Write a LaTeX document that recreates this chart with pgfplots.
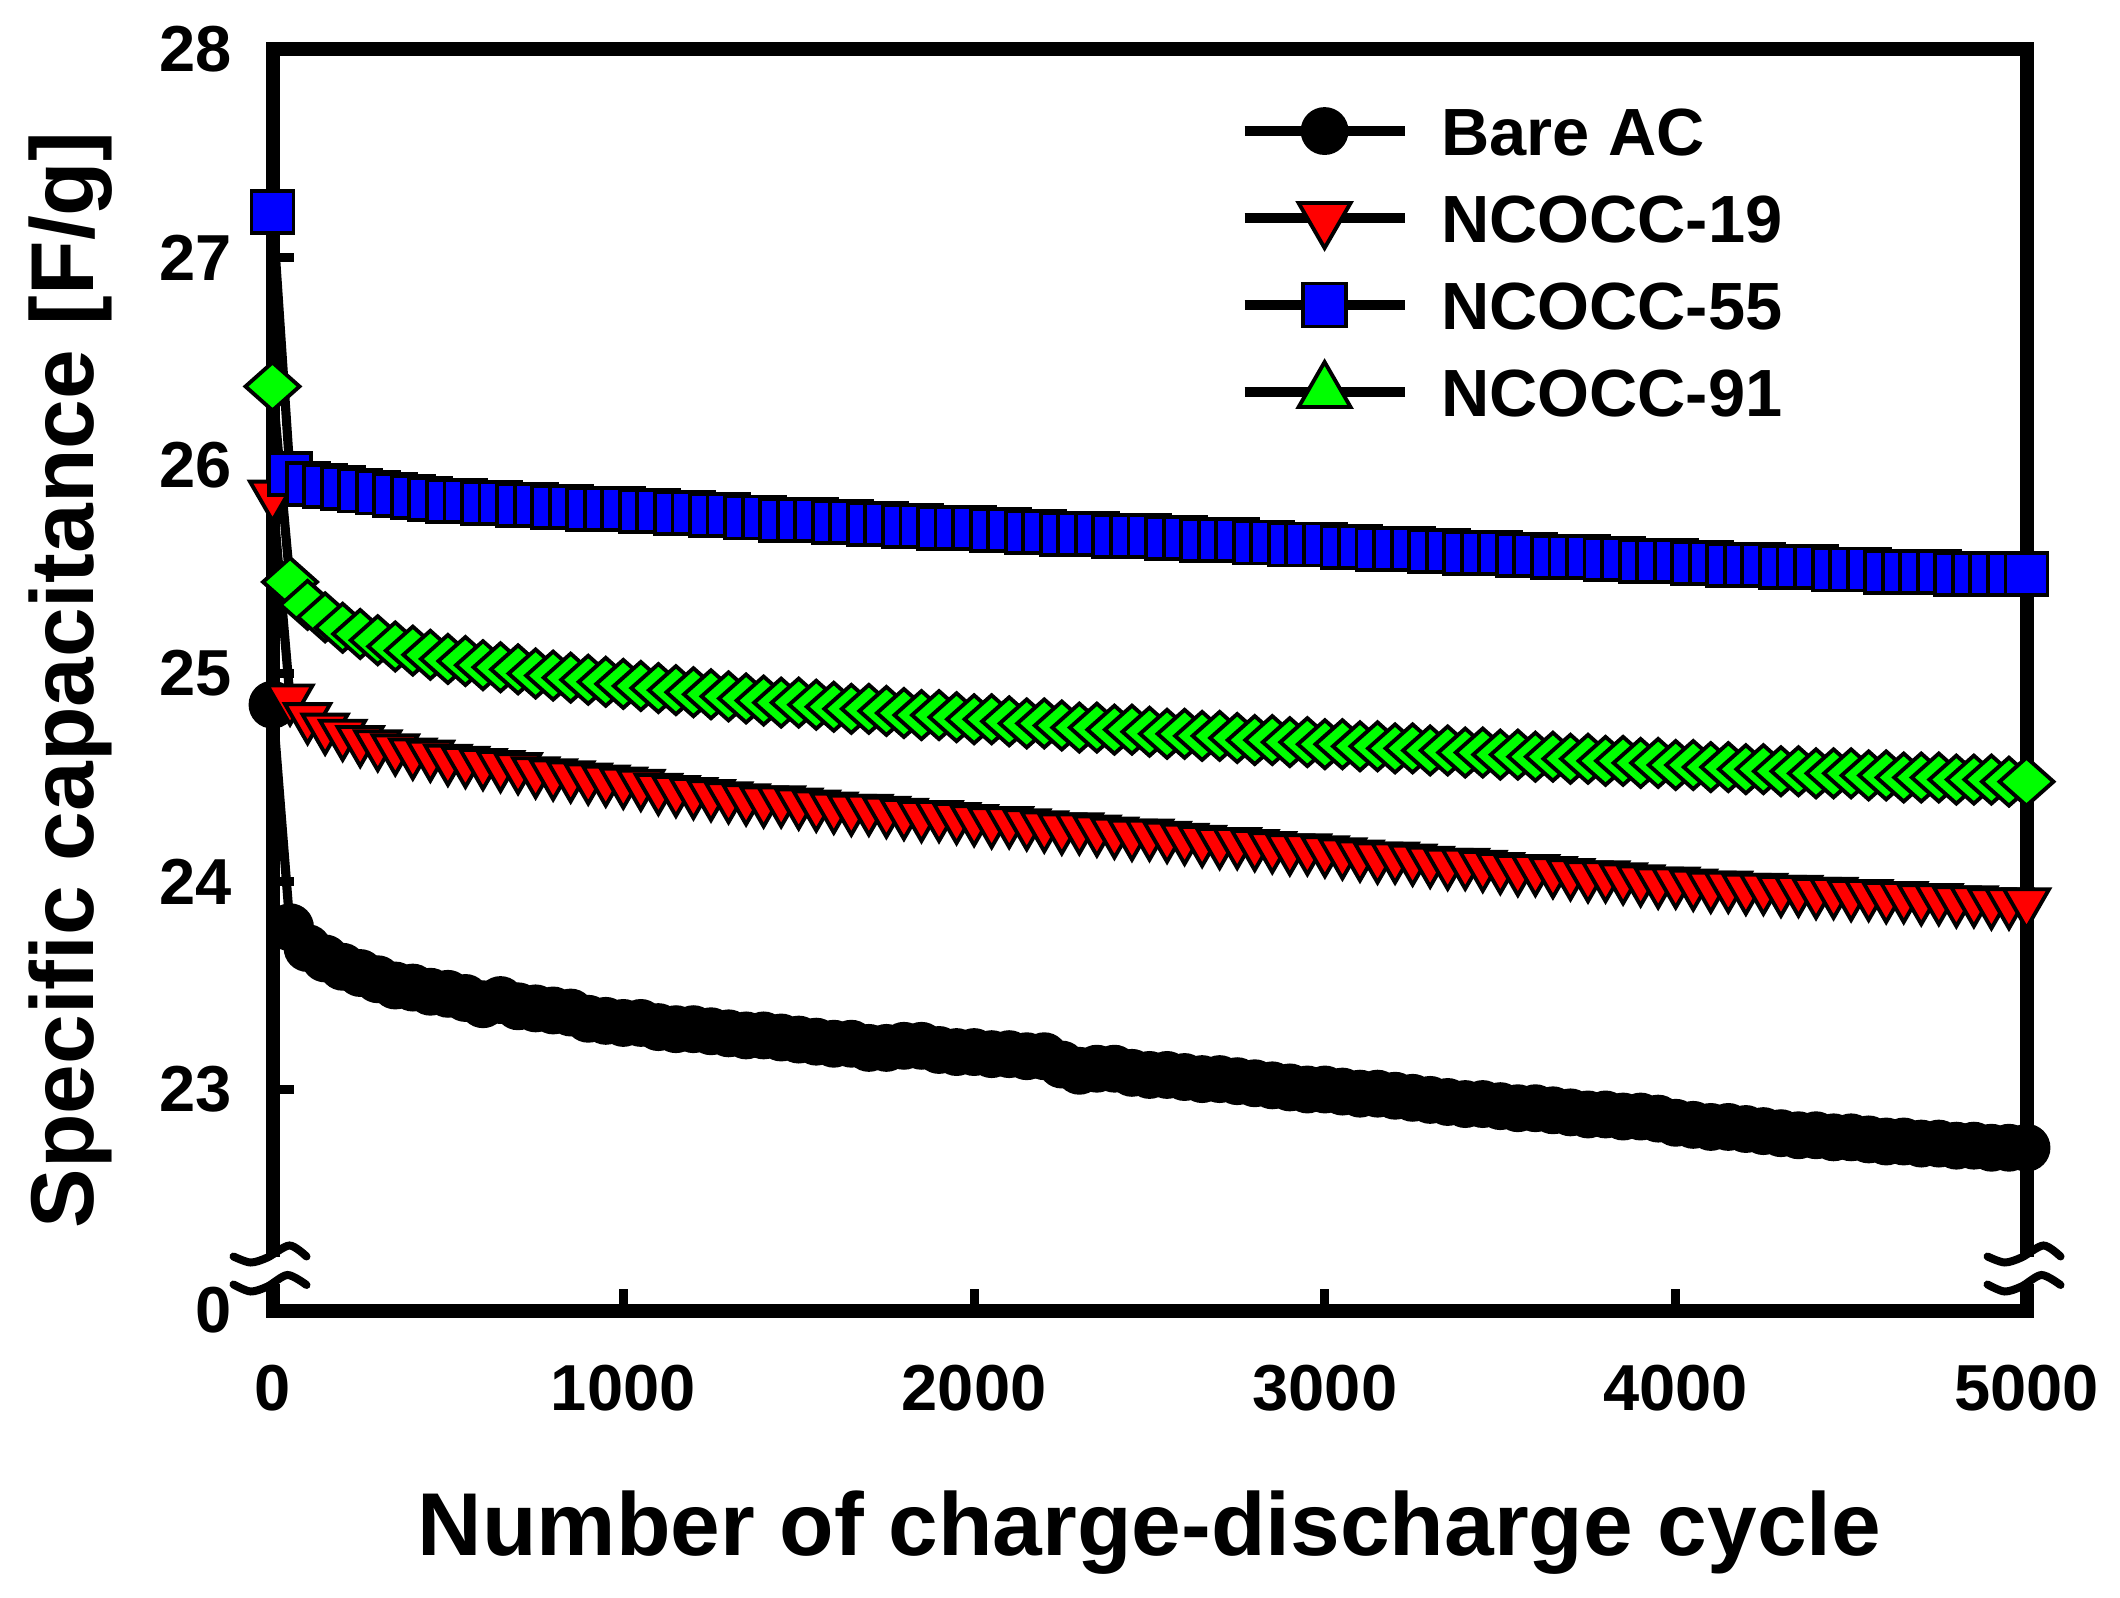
\documentclass[border=0pt]{standalone}
\usepackage{fontspec}
\setmainfont{Liberation Sans}
\usepackage{pgfplots}
\usepackage{pgfplotstable}
\pgfplotsset{compat=1.18}
\definecolor{mblue}{RGB}{0,0,255}
\definecolor{mred}{RGB}{255,0,0}
\definecolor{mgreen}{RGB}{0,255,0}

\pgfplotstableread{
x bare n19 n55 n91
0 24.85 25.86 27.22 26.38
50 23.78 24.88 25.96 25.44
100 23.68 24.79 25.91 25.33
150 23.63 24.74 25.90 25.27
200 23.59 24.71 25.89 25.22
250 23.56 24.68 25.88 25.19
300 23.53 24.66 25.87 25.16
350 23.50 24.64 25.86 25.13
400 23.49 24.62 25.85 25.11
450 23.47 24.61 25.84 25.09
500 23.46 24.59 25.83 25.07
550 23.44 24.58 25.83 25.06
600 23.41 24.57 25.82 25.04
650 23.43 24.56 25.82 25.03
700 23.40 24.55 25.81 25.02
750 23.39 24.53 25.81 25.00
800 23.38 24.52 25.80 24.99
850 23.37 24.51 25.80 24.98
900 23.34 24.50 25.79 24.97
950 23.33 24.49 25.79 24.96
1000 23.32 24.48 25.79 24.95
1050 23.32 24.47 25.78 24.94
1100 23.30 24.45 25.78 24.93
1150 23.29 24.44 25.77 24.92
1200 23.29 24.43 25.77 24.91
1250 23.28 24.42 25.76 24.90
1300 23.27 24.41 25.76 24.89
1350 23.26 24.40 25.75 24.88
1400 23.26 24.39 25.75 24.87
1450 23.25 24.39 25.74 24.86
1500 23.24 24.38 25.74 24.86
1550 23.23 24.37 25.74 24.85
1600 23.22 24.36 25.73 24.84
1650 23.22 24.35 25.73 24.83
1700 23.20 24.35 25.72 24.83
1750 23.20 24.34 25.72 24.82
1800 23.21 24.33 25.71 24.81
1850 23.21 24.32 25.71 24.80
1900 23.19 24.32 25.70 24.80
1950 23.18 24.31 25.70 24.79
2000 23.18 24.30 25.70 24.78
2050 23.17 24.29 25.69 24.78
2100 23.17 24.29 25.69 24.77
2150 23.16 24.28 25.68 24.76
2200 23.16 24.27 25.68 24.76
2250 23.12 24.26 25.67 24.75
2300 23.09 24.26 25.67 24.74
2350 23.10 24.25 25.67 24.74
2400 23.10 24.24 25.66 24.73
2450 23.08 24.23 25.66 24.73
2500 23.07 24.23 25.66 24.72
2550 23.07 24.22 25.65 24.71
2600 23.06 24.21 25.65 24.71
2650 23.05 24.20 25.64 24.70
2700 23.05 24.19 25.64 24.70
2750 23.04 24.19 25.64 24.69
2800 23.03 24.18 25.63 24.68
2850 23.02 24.17 25.63 24.68
2900 23.01 24.16 25.62 24.67
2950 23.00 24.16 25.62 24.67
3000 23.00 24.15 25.62 24.66
3050 22.99 24.14 25.61 24.66
3100 22.98 24.13 25.61 24.65
3150 22.98 24.12 25.60 24.65
3200 22.97 24.12 25.60 24.64
3250 22.96 24.11 25.60 24.64
3300 22.95 24.10 25.59 24.63
3350 22.94 24.09 25.59 24.63
3400 22.93 24.09 25.58 24.62
3450 22.93 24.08 25.58 24.62
3500 22.92 24.07 25.58 24.61
3550 22.91 24.06 25.57 24.61
3600 22.91 24.06 25.57 24.60
3650 22.90 24.05 25.56 24.60
3700 22.89 24.04 25.56 24.59
3750 22.88 24.03 25.56 24.59
3800 22.88 24.03 25.55 24.58
3850 22.87 24.02 25.55 24.58
3900 22.87 24.01 25.54 24.57
3950 22.86 24.00 25.54 24.57
4000 22.84 24.00 25.54 24.56
4050 22.83 23.99 25.53 24.56
4100 22.82 23.98 25.53 24.55
4150 22.82 23.98 25.52 24.55
4200 22.81 23.97 25.52 24.54
4250 22.80 23.97 25.52 24.54
4300 22.79 23.96 25.51 24.53
4350 22.78 23.96 25.51 24.53
4400 22.78 23.95 25.51 24.52
4450 22.77 23.95 25.50 24.52
4500 22.77 23.94 25.50 24.52
4550 22.76 23.94 25.50 24.51
4600 22.75 23.93 25.49 24.51
4650 22.75 23.93 25.49 24.50
4700 22.74 23.92 25.49 24.50
4750 22.74 23.92 25.49 24.50
4800 22.73 23.91 25.48 24.49
4850 22.73 23.91 25.48 24.49
4900 22.72 23.90 25.48 24.49
4950 22.72 23.90 25.48 24.48
5000 22.72 23.90 25.48 24.48
}\datatable

\begin{document}
\begin{tikzpicture}
\begin{axis}[
  at={(0,0)}, anchor=south west,
  scale only axis, width=17.54cm, height=12.61cm,
  xmin=0, xmax=5000, ymin=21.9375, ymax=28,
  clip=false,
  axis line style={line width=0.14cm},
  tick style={line width=0.09cm, black},
  major tick length=0.21cm,
  tick align=inside,
  tick pos=left,
  xtick={0,1000,2000,3000,4000,5000},
  xticklabels={0,1000,2000,3000,4000,5000},
  ytick={21.9375,23,24,25,26,27,28},
  yticklabels={0,23,24,25,26,27,28},
  ticklabel style={font=\fontsize{18.5}{18.5}\selectfont\bfseries},
  xticklabel style={anchor=base, inner sep=0pt, yshift=-0.995cm},
  yticklabel style={anchor=east, inner sep=0pt, xshift=-0.40cm},
  xlabel={Number of charge-discharge cycle},
  ylabel={Specific capacitance [F/g]},
  label style={font=\fontsize{25.4}{25.4}\selectfont\bfseries},
  xlabel style={at={(axis description cs:0.5,-0.19429)}, anchor=base, inner sep=0pt},
  ylabel style={at={(axis description cs:-0.10177,0.5)}, anchor=base, inner sep=0pt},
  legend image code/.code={\draw[mark repeat=2, mark phase=2, #1] plot coordinates {(0cm,0cm) (0.80cm,0cm) (1.60cm,0cm)};},
  legend cell align=left,
  legend style={at={(axis description cs:0.5516,0.9615)}, anchor=north west,
    draw=none, fill=none, inner sep=0pt, outer sep=0pt,
    column sep=0.32cm, row sep=0.21cm,
    font=\fontsize{19}{19}\selectfont\bfseries,
    nodes={inner sep=0pt, text height=0.57cm, text depth=0.09cm}},
]
\addplot[black, line width=2.6pt, mark=*, mark size=0.22cm,
  mark options={fill=black, draw=black, line width=1.1pt, solid}, forget plot]
  table[x=x, y=bare]{\datatable};
\addplot[black, line width=2.6pt, mark=triangle*, mark size=0.26cm,
  mark options={fill=mred, draw=black, line width=1.1pt, solid, rotate=180}, forget plot]
  table[x=x, y=n19]{\datatable};
\addplot[black, line width=2.6pt, mark=square*, mark size=0.21cm,
  mark options={fill=mblue, draw=black, line width=1.1pt, solid}, forget plot]
  table[x=x, y=n55]{\datatable};
\addplot[black, line width=2.6pt, mark=diamond*, mark size=0.24cm,
  mark options={fill=mgreen, draw=black, line width=1.1pt, solid, xscale=1.5}, forget plot]
  table[x=x, y=n91]{\datatable};

\addlegendimage{black, line width=2.6pt, mark=*, mark size=0.22cm, mark options={fill=black, draw=black, line width=1.1pt, solid}}
\addlegendentry{Bare AC}
\addlegendimage{black, line width=2.6pt, mark=triangle*, mark size=0.3cm, mark options={fill=mred, draw=black, line width=1.1pt, solid, rotate=180}}
\addlegendentry{NCOCC-19}
\addlegendimage{black, line width=2.6pt, mark=square*, mark size=0.215cm, mark options={fill=mblue, draw=black, line width=1.1pt, solid}}
\addlegendentry{NCOCC-55}
\addlegendimage{black, line width=2.6pt, mark=triangle*, mark size=0.3cm, mark options={fill=mgreen, draw=black, line width=1.1pt, solid}}
\addlegendentry{NCOCC-91}
\end{axis}

% axis break marks
\foreach \xx in {0,17.54} {
  \fill[white] ({\xx-0.1},0.26) rectangle ({\xx+0.1},0.53);
  \draw[line width=0.08cm, line cap=round] plot[smooth] coordinates {({\xx-0.39},0.54) ({\xx-0.22},0.48) ({\xx-0.05},0.53) ({\xx+0.17},0.65) ({\xx+0.34},0.54)};
  \draw[line width=0.08cm, line cap=round] plot[smooth] coordinates {({\xx-0.39},0.26) ({\xx-0.22},0.19) ({\xx-0.05},0.24) ({\xx+0.15},0.355) ({\xx+0.34},0.255)};
}

\pgfresetboundingbox
\path[use as bounding box] (-2.725,-2.865) rectangle (18.475,13.105);
\end{tikzpicture}
\end{document}
